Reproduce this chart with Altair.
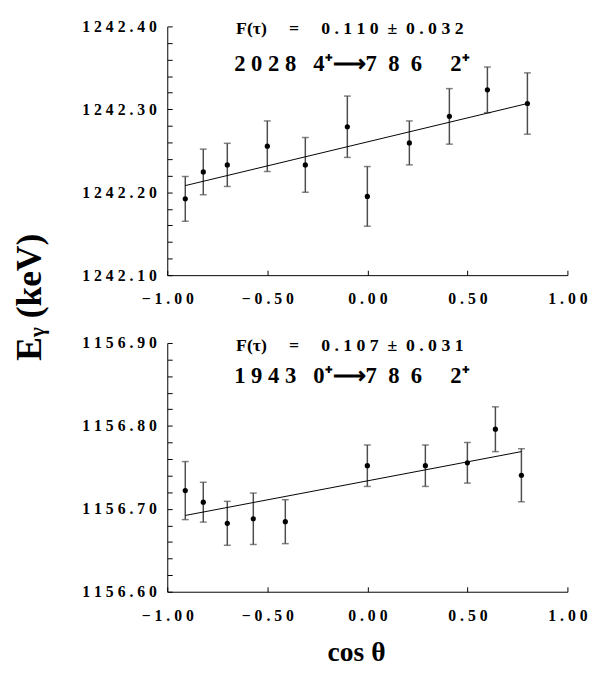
import altair as alt
import pandas as pd

# ---------------- data ----------------
x_ticks = [-1.0, -0.5, 0.0, 0.5, 1.0]

# upper panel: 2028 4+ -> 786 2+
top_cos = [-0.91, -0.82, -0.70, -0.50, -0.31, -0.10, 0.00, 0.21, 0.41, 0.60, 0.80]
top_E = [1242.192, 1242.2245, 1242.233, 1242.2555, 1242.233, 1242.279,
         1242.195, 1242.2595, 1242.2915, 1242.3235, 1242.307]
top_err = [0.027, 0.0275, 0.026, 0.0305, 0.033, 0.037, 0.036, 0.0265, 0.0335, 0.0275, 0.037]
top_fit_cos = [-0.91, 0.80]
top_fit_E = [1242.208, 1242.307]
top_ydom = [1242.10, 1242.40]
top_yticks = [1242.10, 1242.20, 1242.30, 1242.40]
top_F = ("0.110", "0.032")
top_trans = ("2028", "4", "786", "2")

# lower panel: 1943 0+ -> 786 2+
bot_cos = [-0.91, -0.82, -0.70, -0.57, -0.41, 0.00, 0.29, 0.50, 0.64, 0.77]
bot_E = [1156.722, 1156.708, 1156.6825, 1156.688, 1156.6845,
         1156.752, 1156.752, 1156.7555, 1156.796, 1156.7405]
bot_err = [0.035, 0.024, 0.0265, 0.031, 0.0265, 0.025, 0.025, 0.0245, 0.027, 0.032]
bot_fit_cos = [-0.91, 0.77]
bot_fit_E = [1156.692, 1156.769]
bot_ydom = [1156.60, 1156.90]
bot_yticks = [1156.60, 1156.70, 1156.80, 1156.90]
bot_F = ("0.107", "0.031")
bot_trans = ("1943", "0", "786", "2")

# ---------------- styling ----------------
W, H = 407, 253
SERIF = "Liberation Serif"
EC = "#4d4d4d"
NB = "\u00a0"
LBL = "join(split(datum.label, ''), '" + NB + "')"


def sp(s, n=1):
    return (NB * n).join(s)


def f_line(vals):
    return "F(τ)" + NB * 5 + "=" + NB * 5 + sp(vals[0]) + NB * 2 + "±" + NB * 2 + sp(vals[1])


def t_line(tr):
    return sp(tr[0]) + NB * 3 + tr[1] + "⁺⟶" + sp(tr[2], 2) + NB * 5 + tr[3] + "⁺"


def panel(cos, E, err, fit_cos, fit_E, ydom, yticks, F, tr, y1, y2, xtitle=None):
    df = pd.DataFrame({
        "cos": cos,
        "E": E,
        "lo": [e - d for e, d in zip(E, err)],
        "hi": [e + d for e, d in zip(E, err)],
    })
    fit = pd.DataFrame({"cos": fit_cos, "E": fit_E})
    xs = alt.Scale(domain=[-1, 1], nice=False, zero=False)
    ys = alt.Scale(domain=ydom, nice=False, zero=False)
    xkw = dict(values=x_ticks, format=".2f", labelExpr=LBL, ticks=False, tickSize=0,
               labelPadding=16, labelFlush=False, labelOverlap=False, grid=False)
    if xtitle:
        xaxis = alt.Axis(title=xtitle, titleFont=SERIF, titleFontSize=28,
                         titleFontWeight="bold", titleColor="black", titlePadding=16,
                         titleX=192, titleAlign="center", **xkw)
    else:
        xaxis = alt.Axis(title=None, **xkw)
    yaxis = alt.Axis(values=yticks, format=".2f", labelExpr=LBL, ticks=False, tickSize=0,
                     labelPadding=11, labelFlush=False, labelOverlap=False, grid=False,
                     title=None)

    def X(f):
        return alt.X(f, type="quantitative", scale=xs, axis=xaxis)

    def Y(f):
        return alt.Y(f, type="quantitative", scale=ys, axis=yaxis)

    bars = alt.Chart(df).mark_rule(color=EC, strokeWidth=1.5).encode(
        x=X("cos"), y=Y("lo"), y2="hi")
    cap_lo = alt.Chart(df).mark_tick(orient="horizontal", size=7, thickness=1.5, color=EC).encode(
        x=X("cos"), y=Y("lo"))
    cap_hi = alt.Chart(df).mark_tick(orient="horizontal", size=7, thickness=1.5, color=EC).encode(
        x=X("cos"), y=Y("hi"))
    line = alt.Chart(fit).mark_line(color="black", strokeWidth=1).encode(
        x=X("cos"), y=Y("E"))
    pts = alt.Chart(df).mark_circle(size=28, color="black", opacity=1).encode(
        x=X("cos"), y=Y("E"))
    txt1 = alt.Chart(pd.DataFrame({"t": [f_line(F)]})).mark_text(
        align="left", baseline="middle", font=SERIF, fontSize=18, fontWeight="bold",
        color="black").encode(text="t:N", x=alt.value(70), y=alt.value(y1))
    txt2 = alt.Chart(pd.DataFrame({"t": [t_line(tr)]})).mark_text(
        align="left", baseline="middle", font=SERIF, fontSize=23, fontWeight="bold",
        color="black").encode(text="t:N", x=alt.value(68), y=alt.value(y2))
    main = alt.layer(bars, cap_lo, cap_hi, line, pts, txt1, txt2)

    # inward-pointing ticks: axes displaced onto the opposite edges
    ticks = alt.Chart(df).mark_point(opacity=0).encode(
        x=alt.X("cos", type="quantitative", scale=xs,
                axis=alt.Axis(orient="top", offset=-H, labels=False, domain=False, grid=False,
                              ticks=True, tickSize=5, tickWidth=1, tickColor="black",
                              values=x_ticks, title=None)),
        y=alt.Y("E", type="quantitative", scale=ys,
                axis=alt.Axis(orient="right", offset=-W, labels=False, domain=False, grid=False,
                              ticks=True, tickSize=5, tickWidth=1, tickColor="black",
                              tickCount=15, title=None)),
    )
    return alt.layer(main, ticks).resolve_scale(x="independent", y="independent").properties(
        width=W, height=H)


top = panel(top_cos, top_E, top_err, top_fit_cos, top_fit_E, top_ydom, top_yticks,
            top_F, top_trans, 2.5, 38)
bot = panel(bot_cos, bot_E, bot_err, bot_fit_cos, bot_fit_E, bot_ydom, bot_yticks,
            bot_F, bot_trans, 2.8, 34, xtitle="cos θ")

chart = alt.vconcat(top, bot, spacing=29).properties(
    title=alt.TitleParams(text="Eᵧ (keV)", orient="left", anchor="middle", font=SERIF,
                          fontSize=36, fontWeight="bold", color="black", offset=33, dx=46)
).configure_view(stroke=None).configure_axis(
    labelFont=SERIF, labelFontSize=16, labelFontWeight="bold", labelColor="black",
    domainColor="black", domainWidth=1
)

chart.save("out.html", embed_options={"renderer": "svg", "actions": False})
